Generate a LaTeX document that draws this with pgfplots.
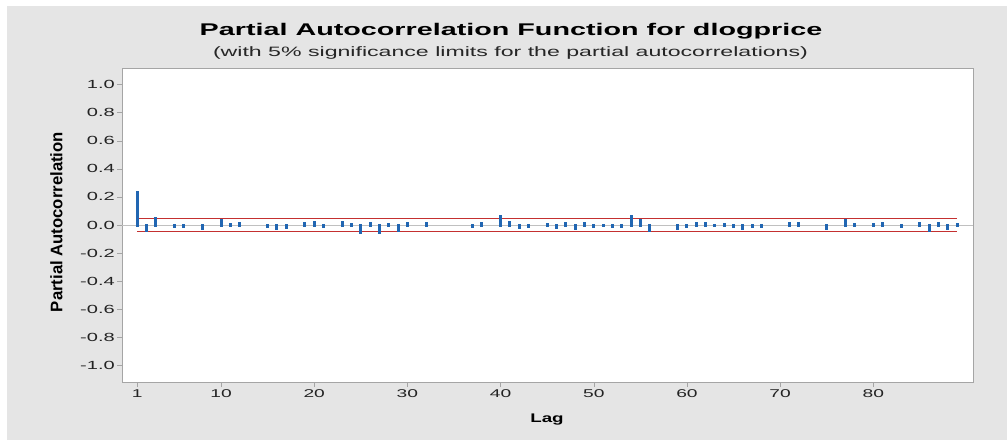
\documentclass[border=0pt]{standalone}
\usepackage{pgfplots}
\pgfplotsset{compat=1.18}
\usepackage{fontspec}
\setmainfont{Liberation Sans}
\newfontfamily\widefont[FakeStretch=1.7]{Liberation Sans}
\newfontfamily\lagfont[FakeStretch=1.5]{Liberation Sans}

\definecolor{bggray}{RGB}{229,229,229}
\definecolor{barblue}{RGB}{33,102,178}
\definecolor{limred}{RGB}{196,48,48}
\definecolor{spine}{RGB}{165,165,165}
\definecolor{ticktext}{RGB}{35,35,35}

\begin{document}
\begin{tikzpicture}
\useasboundingbox (0,0) rectangle (1007pt,-440pt);
\fill[white] (0,0) rectangle (1007pt,-440pt);
\fill[bggray] (7pt,-6pt) rectangle (1007pt,-440pt);

\node[anchor=base, font=\widefont\bfseries\fontsize{16.9}{20}\selectfont] at (511pt,-35pt)
  {Partial Autocorrelation Function for dlogprice};
\node[anchor=base, font=\widefont\fontsize{13.6}{16}\selectfont, text=black!85] at (510.5pt,-56pt)
  {(with 5\% significance limits for the partial autocorrelations)};
\node[rotate=90, font=\bfseries\fontsize{16.7}{20}\selectfont] at (56.5pt,-222pt)
  {Partial Autocorrelation};
\node[anchor=base, font=\lagfont\bfseries\fontsize{12.5}{14}\selectfont] at (547pt,-422pt) {Lag};

\begin{axis}[
  at={(122pt,-382pt)}, anchor=south west,
  scale only axis, width=851pt, height=314pt,
  xmin=-0.63, xmax=90.7, ymin=-1.117, ymax=1.117,
  axis background/.style={fill=white},
  axis line style={spine},
  tick align=outside, tick pos=left,
  major tick length=5pt,
  tick style={spine},
  xtick={1,10,20,30,40,50,60,70,80},
  ytick={-1,-0.8,-0.6,-0.4,-0.2,0,0.2,0.4,0.6,0.8,1},
  yticklabel style={/pgf/number format/fixed, /pgf/number format/precision=1,
    /pgf/number format/fixed zerofill, inner sep=2pt,
    font=\widefont\fontsize{11.8}{13}\selectfont},
  xticklabel style={inner sep=2.5pt, font=\widefont\fontsize{11.3}{13}\selectfont},
  /pgf/number format/assume math mode=true,
  ticklabel style={text=ticktext},
]
% zero reference line
\addplot[spine!70, line width=0.8pt, forget plot] coordinates {(-0.63,0) (90.7,0)};
% 5% significance limits
\addplot[limred, line width=1.3pt] coordinates {(1,0.046) (89,0.046)};
\addplot[limred, line width=1.3pt] coordinates {(1,-0.046) (89,-0.046)};
% partial autocorrelations
\addplot[ycomb, barblue, line width=3pt, line cap=rect, mark=none] coordinates {
(1,0.232) (2,-0.036) (3,0.045) (5,-0.012) (6,-0.010) (8,-0.026)
(10,0.030) (11,0.003) (12,0.012) (15,-0.010) (16,-0.022) (17,-0.018)
(19,0.008) (20,0.021) (21,-0.010) (23,0.017) (24,0.006) (25,-0.050)
(26,0.012) (27,-0.050) (28,0.002) (29,-0.040) (30,0.008) (32,0.008)
(37,-0.010) (38,0.008) (40,0.064) (41,0.017) (42,-0.021) (43,-0.012)
(45,0.006) (46,-0.017) (47,0.012) (48,-0.026) (49,0.012) (50,-0.008)
(51,-0.003) (52,-0.008) (53,-0.008) (54,0.059) (55,0.035) (56,-0.040)
(59,-0.026) (60,-0.010) (61,0.012) (62,0.012) (63,-0.003) (64,0.004)
(65,-0.010) (66,-0.024) (67,-0.008) (68,-0.008) (71,0.012) (72,0.012)
(75,-0.026) (77,0.030) (78,0.006) (80,0.002) (81,0.012) (83,-0.010)
(85,0.010) (86,-0.040) (87,0.008) (88,-0.026) (89,0.006)
};
\end{axis}
\end{tikzpicture}
\end{document}
